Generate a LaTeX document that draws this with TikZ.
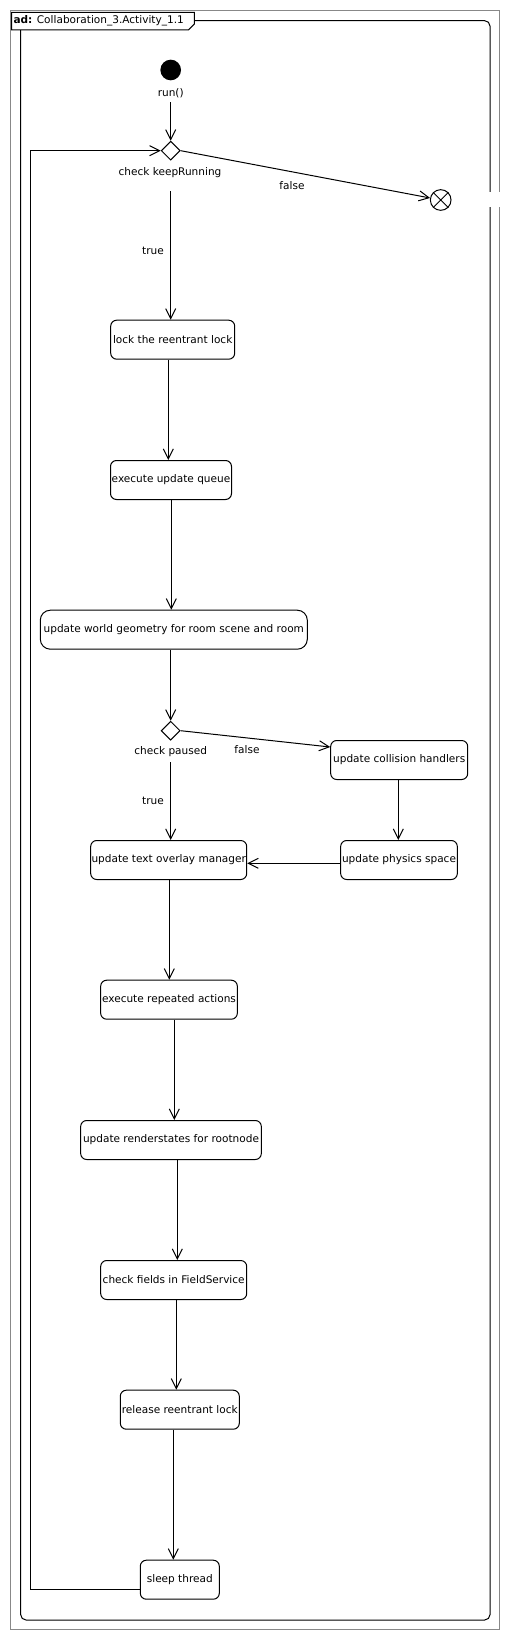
\documentclass[tikz,border=0pt]{standalone}
\usepackage{fontspec}
\setmainfont{DejaVu Sans}
\usetikzlibrary{arrows.meta,shapes.geometric,calc}
\definecolor{framegray}{RGB}{136,136,136}
\begin{document}
\begin{tikzpicture}[x=0.75pt,y=-0.75pt,
  every node/.style={font=\fontsize{7.9}{9.5}\selectfont},
  act/.style={draw, rounded corners=4.5pt, minimum height=29.25pt, inner sep=0pt, line width=0.75pt, fill=white},
  flow/.style={-{Straight Barb[length=7.5pt,width=7.5pt]}, line width=0.75pt},
  lbl/.style={inner sep=0pt},
  decision/.style={diamond, draw, line width=0.75pt, minimum width=14.25pt, minimum height=14.25pt, inner sep=0pt, shape aspect=1}]
\useasboundingbox (0,0) rectangle (509,1640);
% frames
\draw[framegray, line width=0.75pt] (10.3,10.3) rectangle (499.7,1629.7);
\draw[line width=0.75pt, rounded corners=4pt] (20.7,20.7) rectangle (490,1620);
\fill[white] (486,192) rectangle (509,207);
\draw[line width=0.75pt, fill=white] (11.7,12.3) -- (194.3,12.3) -- (194.3,24) -- (188.3,30) -- (11.7,30) -- cycle;
\node[lbl, anchor=west] (title) at (13.3,21) {\textbf{ad:} Collaboration\_3.Activity\_1.1};
% nodes
\node[circle, fill, minimum size=15.5pt, inner sep=0pt] (init) at (170.7,70) {};
\node[lbl] (runlbl) at (170.7,93) {run()};
\node[decision] (d1) at (170.7,150.7) {};
\node[lbl] (klbl) at (170,173) {check keepRunning};
\node[circle, draw, line width=0.75pt, minimum size=15.5pt, inner sep=0pt] (fin) at (440.7,200) {};
\draw[line width=0.6pt] (fin.north west) -- (fin.south east) (fin.north east) -- (fin.south west);
\node[lbl] (false1) at (292,186) {false};
\node[lbl] (true1) at (153,251) {true};
\node[act, minimum width=93pt] (lock) at (172.7,339.7) {lock the reentrant lock};
\node[act, minimum width=90.75pt] (queue) at (171,480) {execute update queue};
\node[act, minimum width=200.25pt, rounded corners=7.5pt] (world) at (173.8,629.7) {update world geometry for room scene and room};
\node[decision] (d2) at (170.7,730.7) {};
\node[lbl] (plbl) at (170.7,752) {check paused};
\node[lbl] (false2) at (247,750) {false};
\node[lbl] (true2) at (153,801) {true};
\node[act, minimum width=102.75pt] (coll) at (399.2,760) {update collision handlers};
\node[act, minimum width=87.5pt] (phys) at (399,860) {update physics space};
\node[act, minimum width=117pt] (textov) at (168.7,860) {update text overlay manager};
\node[act, minimum width=102.5pt] (rep) at (169,999.7) {execute repeated actions};
\node[act, minimum width=135.5pt] (render) at (171,1140) {update renderstates for rootnode};
\node[act, minimum width=109.5pt] (field) at (173.7,1280) {check fields in FieldService};
\node[act, minimum width=89.25pt] (release) at (179.8,1409.7) {release reentrant lock};
\node[act, minimum width=59.25pt] (sleep) at (179.8,1579.7) {sleep thread};
% edges
\draw[flow, shorten <=16.3pt] (init.south) -- (d1.north);
\draw[flow] (d1.east) -- (fin);
\draw[flow, shorten <=23.1pt] (d1.south) -- (d1.south |- lock.north);
\draw[flow] (168.3,0 |- lock.south) -- (168.3,0 |- queue.north);
\draw[flow] (171.3,0 |- queue.south) -- (171.3,0 |- world.north);
\draw[flow] (d2.north |- world.south) -- (d2.north);
\draw[flow] (d2.east) -- ([yshift=9.75pt]coll.west);
\draw[flow, shorten <=16.1pt] (d2.south) -- (d2.south |- textov.north);
\draw[flow] (398.3,0 |- coll.south) -- (398.3,0 |- phys.north);
\draw[flow] ([yshift=-2.5pt]phys.west) -- ([yshift=-2.5pt]textov.east);
\draw[flow] (169.3,0 |- textov.south) -- (169.3,0 |- rep.north);
\draw[flow] (174.3,0 |- rep.south) -- (174.3,0 |- render.north);
\draw[flow] (177.3,0 |- render.south) -- (177.3,0 |- field.north);
\draw[flow] (176.3,0 |- field.south) -- (176.3,0 |- release.north);
\draw[flow] (173.3,0 |- release.south) -- (173.3,0 |- sleep.north);
\draw[flow] ([yshift=-7.7pt]sleep.west) -| (30.7,0 |- d1.west) -- (d1.west);
\end{tikzpicture}
\end{document}
